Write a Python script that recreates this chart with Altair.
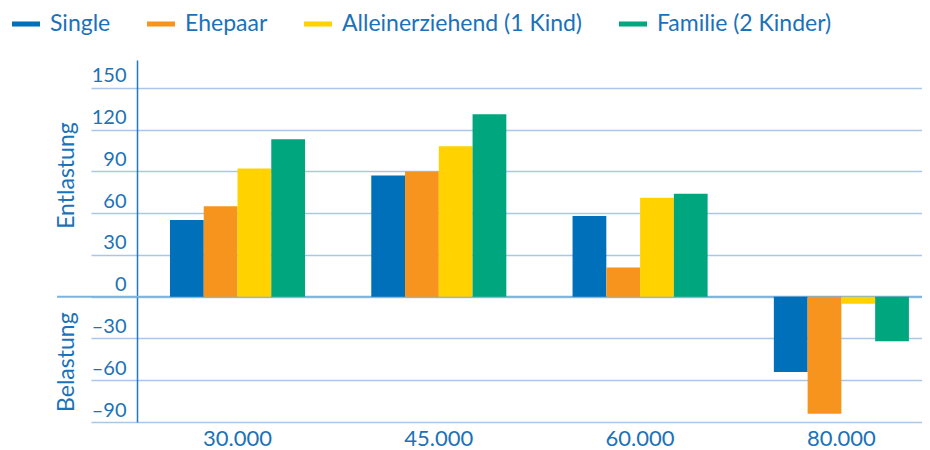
import altair as alt
import pandas as pd

categories = ["30.000", "45.000", "60.000", "80.000"]
series = ["Single", "Ehepaar", "Alleinerziehend (1 Kind)", "Familie (2 Kinder)"]
colors = ["#0070BA", "#F7941E", "#FFD200", "#00A77E"]
single = [55, 87, 58, -54]
ehepaar = [65, 90, 21, -84]
allein = [92, 108, 71, -5]
familie = [113, 131, 74, -32]
y_ticks = [-90, -60, -30, 0, 30, 60, 90, 120, 150]
side_labels = ["Entlastung", "Belastung"]
side_label_pos = [87, -47]

rows = []
for name, vals in zip(series, [single, ehepaar, allein, familie]):
    for c, v in zip(categories, vals):
        rows.append({"cat": c, "series": name, "value": v})
df = pd.DataFrame(rows)

TEXT = "#1B72B8"
GRID = "#A9C5E8"
FONT = "Lato"
W, H = 785, 362

bars = alt.Chart(df).mark_bar().encode(
    x=alt.X("cat:N", sort=categories,
            scale=alt.Scale(paddingInner=0.329, paddingOuter=0.1144, align=0.716),
            axis=alt.Axis(title=None, domain=False, ticks=False, labelAngle=0,
                          labelPadding=6, labelFontSize=22, labelColor=TEXT,
                          labelFont=FONT, grid=False)),
    xOffset=alt.XOffset("series:N", sort=series, scale=alt.Scale(paddingInner=0, paddingOuter=0)),
    y=alt.Y("value:Q", scale=alt.Scale(domain=[-90, 170], nice=False, zero=False),
            axis=alt.Axis(title=None, values=y_ticks, grid=True, gridColor=GRID, gridWidth=1.5,
                          ticks=True, tickSize=46, tickColor=GRID, tickWidth=1.5,
                          labelPadding=-35, labelBaseline="bottom", labelOffset=-2,
                          labelFontSize=20, labelColor=TEXT, labelFont=FONT,
                          domain=True, domainColor="#1F78C1", domainWidth=1.5,
                          labelExpr="datum.value < 0 ? '\u2013' + abs(datum.value) : datum.label")),
    color=alt.Color("series:N", sort=series,
                    scale=alt.Scale(domain=series, range=colors),
                    legend=alt.Legend(title=None, orient="none", direction="horizontal",
                                      legendX=-125, legendY=-50,
                                      symbolType="M-1,-0.18H1V0.18H-1Z", symbolSize=784,
                                      symbolStrokeWidth=0,
                                      labelFontSize=23, labelColor=TEXT, labelFont=FONT,
                                      labelOffset=10, columnPadding=36, labelLimit=400,
                                      gridAlign="none")),
)

zero_df = pd.DataFrame({"v": [0]})
zero = alt.Chart(zero_df).mark_rule(color="#7EB3DA", strokeWidth=2).encode(
    y=alt.Y("v:Q"), x=alt.value(-80), x2=alt.value(W)
)

side_df = pd.DataFrame({"t": side_labels, "v": side_label_pos})
side = alt.Chart(side_df).mark_text(angle=270, fontSize=23, color=TEXT, font=FONT,
                                    align="center", baseline="middle").encode(
    y=alt.Y("v:Q"), x=alt.value(-70), text="t:N"
)

chart = alt.layer(zero, bars, side).properties(
    width=W, height=H,
    autosize=alt.AutoSizeParams(type="none"),
    padding={"left": 129, "top": 52, "right": 0, "bottom": 28},
).configure_view(stroke=None)

chart.save("out.html", embed_options={"renderer": "svg", "actions": False})
